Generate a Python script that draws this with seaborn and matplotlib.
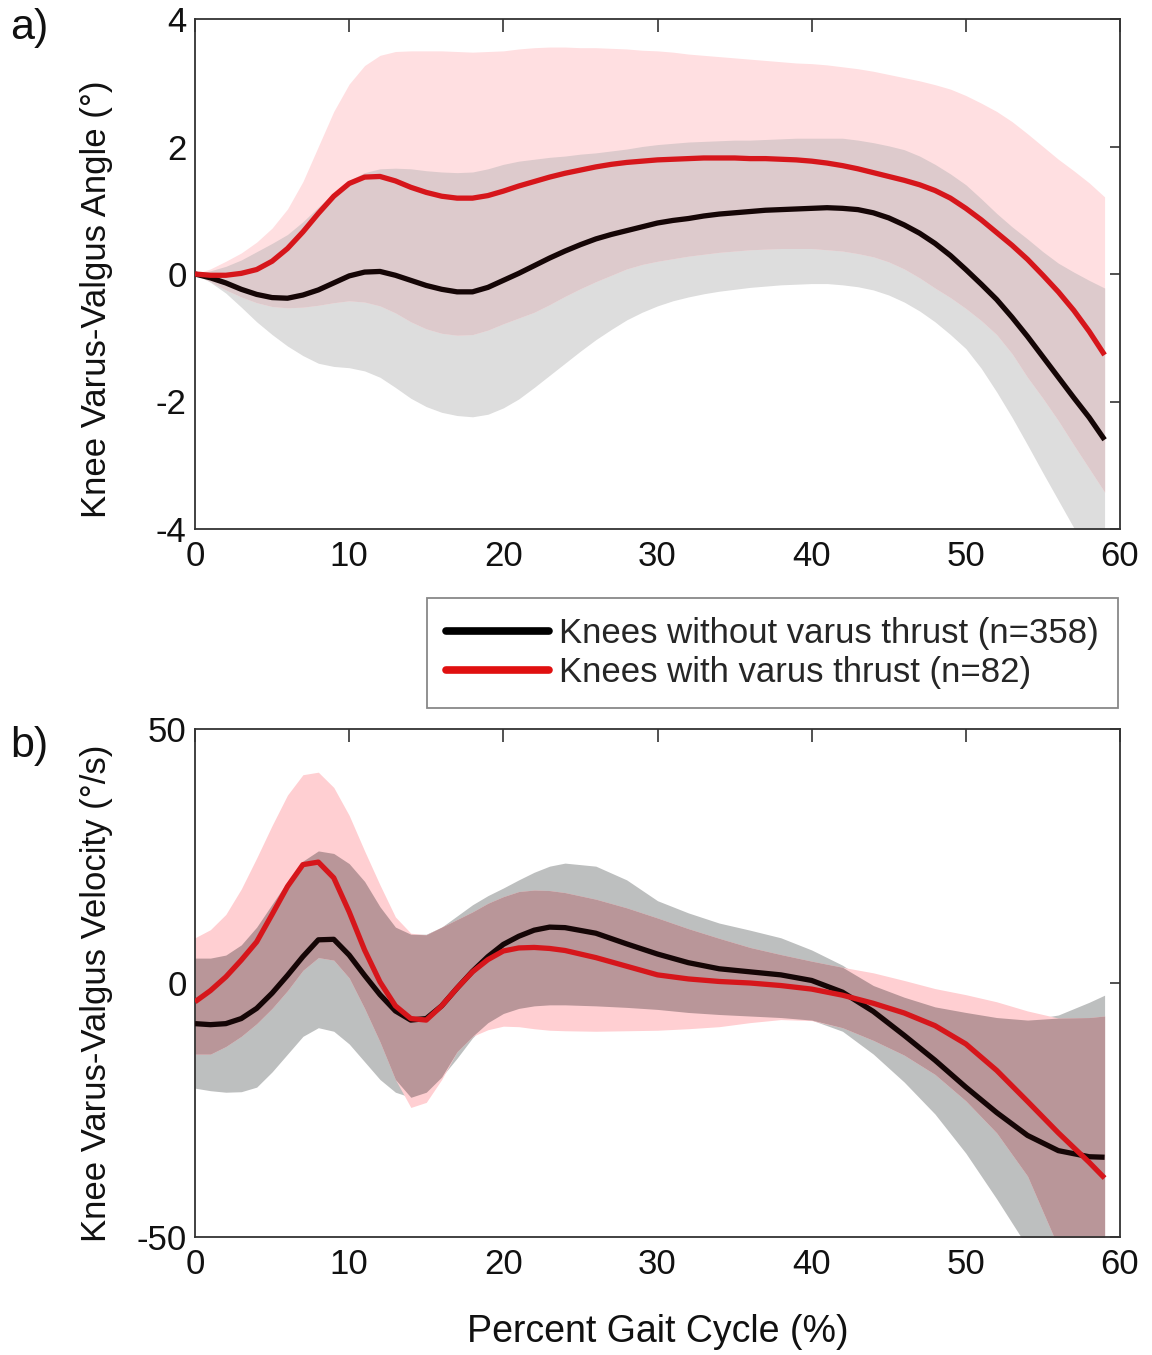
import numpy as np
import pandas as pd
import matplotlib
matplotlib.use("Agg")
import matplotlib.pyplot as plt
from matplotlib.lines import Line2D
import seaborn as sns

# ---------------- data: panel a (angle, degrees) ----------------
x_a = list(range(0, 60))
black_mean_a = [0, -0.06, -0.14, -0.24, -0.32, -0.37, -0.38, -0.33, -0.25, -0.14,
                -0.03, 0.03, 0.04, -0.02, -0.1, -0.18, -0.24, -0.28, -0.28, -0.21,
                -0.1, 0.01, 0.13, 0.25, 0.36, 0.46, 0.55, 0.62, 0.68, 0.74,
                0.8, 0.84, 0.87, 0.91, 0.94, 0.96, 0.98, 1.0, 1.01, 1.02,
                1.03, 1.04, 1.03, 1.01, 0.96, 0.88, 0.77, 0.64, 0.48, 0.29,
                0.07, -0.16, -0.4, -0.68, -0.98, -1.3, -1.62, -1.94, -2.25, -2.6]
black_upper_a = [0, 0.05, 0.12, 0.22, 0.35, 0.48, 0.62, 0.82, 1.05, 1.27,
                 1.47, 1.59, 1.65, 1.66, 1.65, 1.62, 1.6, 1.59, 1.6, 1.65,
                 1.72, 1.77, 1.8, 1.83, 1.85, 1.88, 1.9, 1.93, 1.96, 2.0,
                 2.03, 2.05, 2.07, 2.08, 2.09, 2.1, 2.1, 2.11, 2.12, 2.13,
                 2.13, 2.13, 2.13, 2.1, 2.06, 2.01, 1.95, 1.85, 1.72, 1.57,
                 1.4, 1.18, 0.95, 0.74, 0.55, 0.35, 0.17, 0.03, -0.1, -0.22]
black_lower_a = [0, -0.13, -0.3, -0.52, -0.75, -0.95, -1.13, -1.28, -1.4, -1.45,
                 -1.47, -1.52, -1.62, -1.78, -1.95, -2.08, -2.17, -2.22, -2.24, -2.2,
                 -2.1, -1.96, -1.78, -1.59, -1.4, -1.21, -1.03, -0.87, -0.72, -0.6,
                 -0.5, -0.42, -0.36, -0.31, -0.27, -0.24, -0.21, -0.19, -0.17, -0.16,
                 -0.15, -0.15, -0.17, -0.2, -0.25, -0.33, -0.44, -0.58, -0.75, -0.95,
                 -1.17, -1.48, -1.85, -2.25, -2.68, -3.12, -3.55, -3.98, -4.4, -4.9]
red_mean_a = [0, -0.02, -0.02, 0.01, 0.07, 0.2, 0.4, 0.66, 0.95, 1.22,
              1.42, 1.52, 1.53, 1.46, 1.36, 1.28, 1.22, 1.19, 1.19, 1.23,
              1.3, 1.38, 1.45, 1.52, 1.58, 1.63, 1.68, 1.72, 1.75, 1.77,
              1.79, 1.8, 1.81, 1.82, 1.82, 1.82, 1.81, 1.81, 1.8, 1.79,
              1.77, 1.74, 1.7, 1.65, 1.59, 1.53, 1.47, 1.4, 1.31, 1.19,
              1.03, 0.85, 0.65, 0.45, 0.23, -0.02, -0.28, -0.57, -0.9, -1.27]
red_upper_a = [0, 0.08, 0.2, 0.33, 0.5, 0.72, 1.02, 1.45, 2.0, 2.55,
               2.98, 3.27, 3.43, 3.49, 3.5, 3.5, 3.5, 3.49, 3.48, 3.49,
               3.5, 3.53, 3.55, 3.56, 3.56, 3.55, 3.55, 3.54, 3.53, 3.51,
               3.5, 3.48, 3.45, 3.43, 3.41, 3.39, 3.37, 3.35, 3.33, 3.31,
               3.3, 3.28, 3.25, 3.22, 3.18, 3.13, 3.08, 3.03, 2.97, 2.9,
               2.8, 2.68, 2.55, 2.39, 2.2, 2.0, 1.8, 1.62, 1.43, 1.21]
red_lower_a = [0, -0.12, -0.25, -0.36, -0.45, -0.51, -0.53, -0.52, -0.49, -0.45,
               -0.42, -0.44, -0.5, -0.61, -0.75, -0.86, -0.93, -0.96, -0.95, -0.88,
               -0.78, -0.69, -0.6, -0.48, -0.35, -0.23, -0.12, -0.02, 0.08, 0.15,
               0.2, 0.24, 0.28, 0.31, 0.34, 0.36, 0.38, 0.39, 0.4, 0.4,
               0.4, 0.38, 0.36, 0.32, 0.27, 0.19, 0.08, -0.06, -0.22, -0.37,
               -0.54, -0.73, -0.95, -1.25, -1.62, -1.95, -2.3, -2.68, -3.05, -3.42]

# ---------------- data: panel b (velocity, degrees/s) ----------------
x_b = list(range(0, 25)) + list(range(26, 59, 2)) + [59]
black_mean_b = [-8.0, -8.2, -8.0, -7.0, -5.0, -2.0, 1.5, 5.2, 8.5, 8.6, 5.5, 1.5, -2.3,
                -5.5, -7.3, -7.0, -4.5, -1.0, 2.3, 5.2, 7.6, 9.2, 10.4, 11.0, 10.9,
                9.8, 7.7, 5.7, 4.0, 2.8, 2.2, 1.6, 0.5, -1.8, -5.6, -10.3, -15.2,
                -20.5, -25.5, -30.0, -33.0, -34.2, -34.3]
black_upper_b = [4.9, 4.9, 5.5, 7.5, 11.0, 15.5, 20.0, 24.0, 26.0, 25.5, 23.5, 20.0,
                 15.0, 11.0, 9.6, 9.6, 11.0, 13.2, 15.4, 17.2, 18.7, 20.3, 21.8, 23.0,
                 23.6, 23.0, 20.3, 16.2, 13.8, 11.8, 10.4, 8.9, 6.5, 3.5, -0.5, -2.8,
                 -4.7, -5.8, -6.8, -7.3, -6.3, -3.8, -2.4]
black_lower_b = [-20.7, -21.2, -21.5, -21.4, -20.5, -17.5, -14.0, -10.5, -8.8, -9.5,
                 -12.0, -15.5, -19.0, -21.5, -22.5, -21.5, -18.5, -14.8, -10.8, -7.8,
                 -6.0, -5.0, -4.5, -4.3, -4.3, -4.5, -4.8, -5.2, -5.8, -6.2, -6.5,
                 -6.8, -7.3, -9.5, -14.0, -19.5, -25.8, -33.5, -42.5, -52.0, -60.0,
                 -67.0, -70.0]
red_mean_b = [-3.7, -1.5, 1.2, 4.5, 8.1, 13.5, 19.0, 23.3, 23.8, 20.7, 14.0, 6.5, 0.2,
              -4.5, -7.0, -7.3, -4.5, -1.0, 2.2, 4.6, 6.3, 6.9, 7.0, 6.8, 6.4, 5.0,
              3.3, 1.6, 0.8, 0.3, 0.0, -0.5, -1.2, -2.4, -4.0, -5.9, -8.4, -12.0,
              -17.2, -23.3, -29.5, -35.3, -38.4]
red_upper_b = [8.9, 10.5, 13.5, 18.5, 24.6, 31.0, 37.0, 41.0, 41.5, 38.5, 33.0, 26.0,
               19.3, 13.0, 9.8, 9.5, 11.0, 12.5, 14.0, 15.7, 17.0, 18.0, 18.3, 18.2,
               17.8, 16.5, 14.8, 12.8, 10.7, 8.8, 7.0, 5.6, 4.3, 3.1, 2.0, 0.5, -1.1,
               -2.3, -3.7, -5.5, -6.9, -6.8, -6.5]
red_lower_b = [-14.0, -14.0, -12.5, -10.5, -8.0, -5.0, -1.5, 2.5, 5.0, 4.5, 1.0, -5.0,
               -11.6, -19.0, -24.5, -23.5, -19.0, -13.5, -10.5, -9.2, -8.5, -8.6, -9.0,
               -9.3, -9.4, -9.5, -9.4, -9.3, -9.0, -8.6, -7.8, -7.2, -7.4, -8.8, -11.3,
               -14.2, -18.0, -23.2, -29.5, -38.0, -52.0, -64.0, -70.0]

groups = ["Knees without varus thrust (n=358)", "Knees with varus thrust (n=82)"]
x_ticks = [0, 10, 20, 30, 40, 50, 60]
y_ticks_a = [-4, -2, 0, 2, 4]
y_ticks_b = [-50, 0, 50]

# ---------------- style ----------------
sns.set_theme(style="white")
plt.rcParams["font.family"] = ["Liberation Sans", "DejaVu Sans"]
plt.rcParams["axes.unicode_minus"] = False

W, H = 1152, 1355
fig = plt.figure(figsize=(W / 100, H / 100), dpi=100)


def fpos(l, t, r, b):
    return [l / W, 1 - b / H, (r - l) / W, (b - t) / H]


ax_a = fig.add_axes(fpos(195, 19, 1120, 529))
ax_b = fig.add_axes(fpos(195, 729, 1120, 1237))

LINE_BLACK = "#150606"
LINE_RED = "#d6161b"


def draw_panel(ax, x, bm, bu, bl, rm, ru, rl, cols, ylim, yticks):
    x = np.asarray(x, float)
    bu, bl, ru, rl = (np.asarray(a, float) for a in (bu, bl, ru, rl))
    gray, pink, both = cols
    ax.fill_between(x, bl, bu, color=gray, lw=0, zorder=1)
    ax.fill_between(x, rl, ru, color=pink, lw=0, zorder=1.1)
    lo = np.maximum(bl, rl)
    hi = np.minimum(bu, ru)
    ax.fill_between(x, lo, hi, where=hi >= lo, interpolate=True, color=both, lw=0,
                    zorder=1.2)
    df = pd.DataFrame({
        "x": np.concatenate([x, x]),
        "v": np.concatenate([bm, rm]),
        "g": [groups[0]] * len(x) + [groups[1]] * len(x),
    })
    sns.lineplot(data=df, x="x", y="v", hue="g", palette=[LINE_BLACK, LINE_RED],
                 linewidth=3.8, legend=False, ax=ax, sort=False, estimator=None,
                 zorder=3)
    for ln in ax.get_lines():
        ln.set_solid_joinstyle("round")
        ln.set_solid_capstyle("butt")
    ax.set_xlim(0, 60)
    ax.set_ylim(*ylim)
    ax.set_xticks(x_ticks)
    ax.set_yticks(yticks)
    ax.set_xticklabels([str(t) for t in x_ticks])
    ax.set_yticklabels([str(t) for t in yticks])
    ax.tick_params(axis="both", direction="in", top=True, right=True, labelsize=25,
                   color="#333333", width=1.2, labelcolor="#111111")
    ax.tick_params(axis="x", length=9, pad=8)
    ax.tick_params(axis="y", length=7, pad=6)
    for s in ax.spines.values():
        s.set_color("#333333")
        s.set_linewidth(1.3)
    ax.set_xlabel("")
    ax.grid(False)


draw_panel(ax_a, x_a, black_mean_a, black_upper_a, black_lower_a,
           red_mean_a, red_upper_a, red_lower_a,
           ("#dddddd", "#ffdfe1", "#ddcacc"), (-4, 4), y_ticks_a)
draw_panel(ax_b, x_b, black_mean_b, black_upper_b, black_lower_b,
           red_mean_b, red_upper_b, red_lower_b,
           ("#bdbfbf", "#ffcfd2", "#b99699"), (-50, 50), y_ticks_b)

ax_a.set_ylabel("Knee Varus-Valgus Angle (°)", fontsize=25, va="center",
                color="#111111")
ax_a.yaxis.set_label_coords(-0.106, 0.45)
ax_b.set_ylabel("Knee Varus-Valgus Velocity (°/s)", fontsize=25, va="center",
                color="#111111")
ax_b.yaxis.set_label_coords(-0.106, 0.48)
ax_b.set_xlabel("Percent Gait Cycle (%)", fontsize=27, color="#111111", labelpad=24)

fig.text(10 / W, 1 - 28 / H, "a)", fontsize=31, va="center", ha="left", color="#111111")
fig.text(10 / W, 1 - 746 / H, "b)", fontsize=31, va="center", ha="left", color="#111111")

handles = [Line2D([], [], color="black", lw=5.5),
           Line2D([], [], color="#e01010", lw=5.5)]
leg = fig.legend(handles, groups, loc="upper right",
                 bbox_to_anchor=(1118 / W, 1 - 598 / H), fontsize=25,
                 frameon=True, fancybox=False, framealpha=1, edgecolor="#888888",
                 handlelength=2.95, handletextpad=0.3, labelspacing=0.18,
                 borderpad=0.55, borderaxespad=0)
leg.get_frame().set_linewidth(1.3)

fig.savefig("out.png", dpi=100, facecolor="white")
